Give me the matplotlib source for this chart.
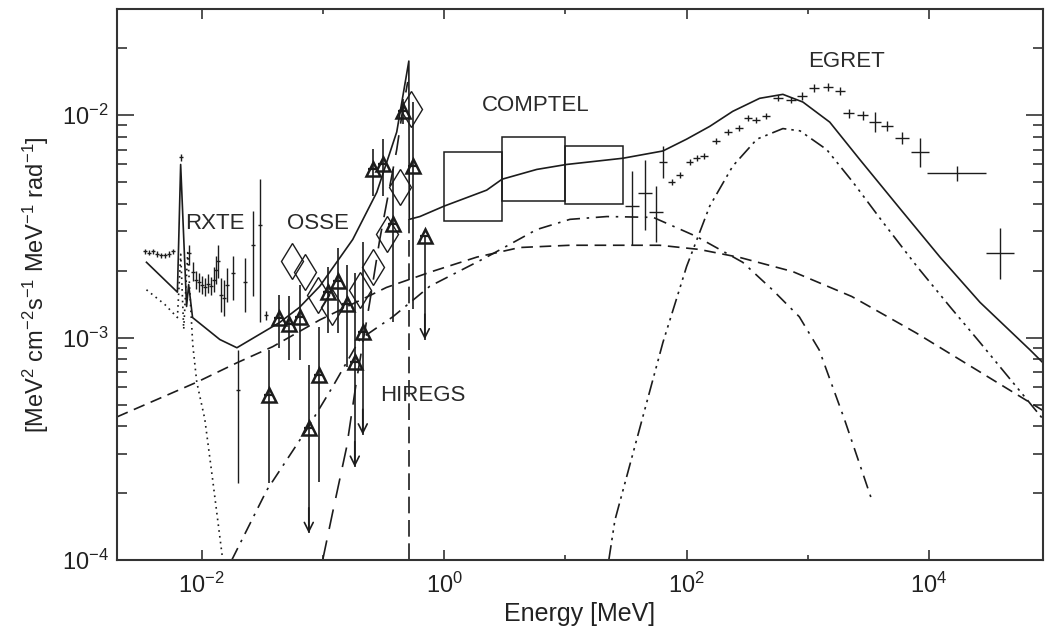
import numpy as np
import matplotlib.pyplot as plt
from matplotlib.patches import Rectangle
from matplotlib.ticker import FixedLocator, FuncFormatter, LogLocator, NullFormatter

plt.rcParams['font.family'] = ['Liberation Sans', 'DejaVu Sans']
plt.rcParams['mathtext.fontset'] = 'custom'
plt.rcParams['mathtext.rm'] = 'Liberation Sans'
plt.rcParams['mathtext.default'] = 'rm'

# ---- model curves (energy in MeV, E^2 dN/dE in MeV^2 cm^-2 s^-1 MeV^-1 rad^-1) ----
total_e = [3.5e-3, 6.3e-3, 6.7e-3, 7.5e-3, 7.8e-3, 8.4e-3, 0.0141, 0.0195, 0.044, 0.0643,
           0.094, 0.176, 0.278, 0.406, 0.511, 0.515, 0.63, 1.0, 2.24, 3.0, 5.8, 10.2, 29.8,
           63.7, 100, 155, 240, 400, 622, 910, 1515, 2690, 5750, 12300, 26300, 68000, 87000]
total_f = [2.18e-3, 1.6e-3, 6.0e-3, 1.38e-3, 1.73e-3, 1.23e-3, 9.8e-4, 9.0e-4, 1.17e-3, 1.37e-3,
           1.7e-3, 2.76e-3, 4.5e-3, 8.4e-3, 0.0175, 3.4e-3, 3.5e-3, 3.9e-3, 4.6e-3, 5.15e-3, 5.7e-3,
           6.0e-3, 6.4e-3, 6.9e-3, 7.8e-3, 8.9e-3, 0.0104, 0.0119, 0.0124, 0.01145, 9.3e-3, 6.3e-3,
           3.8e-3, 2.3e-3, 1.44e-3, 8.8e-4, 7.7e-4]

thermal_e = [3.5e-3, 4.95e-3, 6.3e-3, 6.71e-3, 7.1e-3, 7.66e-3, 8.43e-3, 9.1e-3, 0.0106,
             0.0123, 0.0149]
thermal_f = [1.64e-3, 1.41e-3, 1.23e-3, 2.37e-3, 1.09e-3, 2.41e-3, 9.3e-4, 6.3e-4, 4.3e-4,
             2.3e-4, 1.0e-4]

brems_e = [2e-3, 9.1e-3, 0.0195, 0.0385, 0.094, 0.334, 0.79, 1.86, 4.2, 10.9, 60, 127, 276,
           750, 2300, 7800, 87000]
brems_f = [4.4e-4, 6.3e-4, 7.7e-4, 9.1e-4, 1.2e-3, 1.68e-3, 1.98e-3, 2.3e-3, 2.54e-3, 2.6e-3,
           2.6e-3, 2.49e-3, 2.29e-3, 1.98e-3, 1.53e-3, 1.05e-3, 4.7e-4]

ic_e = [0.0177, 0.0344, 0.0735, 0.12, 0.201, 0.377, 0.76, 2.24, 5.8, 10.9, 22, 53, 120, 290,
        510, 850, 1240, 2000, 3370]
ic_f = [1.0e-4, 2.06e-4, 3.86e-4, 6.0e-4, 9.8e-4, 1.24e-3, 1.7e-3, 2.3e-3, 3.06e-3, 3.4e-3,
        3.5e-3, 3.47e-3, 2.85e-3, 2.18e-3, 1.64e-3, 1.24e-3, 8.8e-4, 4.3e-4, 1.86e-4]

pi0_e = [22.8, 25.6, 63.7, 100, 155, 240, 380, 622, 860, 1430, 2350, 4160, 7930, 14800,
         26300, 87000]
pi0_f = [1.0e-4, 1.51e-4, 9.5e-4, 2.09e-3, 3.9e-3, 5.9e-3, 7.8e-3, 8.7e-3, 8.5e-3, 7.0e-3,
         5.0e-3, 3.3e-3, 2.09e-3, 1.38e-3, 9.5e-4, 4.3e-4]

pos_e = [0.0995, 0.12, 0.157, 0.19, 0.243, 0.294, 0.343, 0.406, 0.455, 0.5]
pos_f = [1.0e-4, 1.63e-4, 3.23e-4, 6.5e-4, 1.44e-3, 2.76e-3, 4.3e-3, 7.0e-3, 0.0106, 0.0141]

line511_e = [0.511, 0.511]
line511_f = [1.0e-4, 3.4e-3]

# ---- RXTE ----
rxte_e = [3.39e-3, 3.66e-3, 3.94e-3, 4.25e-3, 4.59e-3, 4.95e-3, 5.34e-3, 5.76e-3, 6.71e-3,
          7.82e-3, 8.43e-3, 8.92e-3, 9.45e-3, 0.0100, 0.0106, 0.0112, 0.0119, 0.0126, 0.0131,
          0.0136, 0.0144, 0.0152, 0.0161, 0.0180, 0.0198, 0.0226, 0.0264, 0.0301, 0.0337]
rxte_f = [2.44e-3, 2.41e-3, 2.44e-3, 2.37e-3, 2.34e-3, 2.34e-3, 2.37e-3, 2.44e-3, 6.47e-3,
          2.41e-3, 1.98e-3, 1.82e-3, 1.77e-3, 1.73e-3, 1.68e-3, 1.75e-3, 1.70e-3, 1.82e-3,
          2.02e-3, 2.20e-3, 1.55e-3, 1.51e-3, 1.73e-3, 1.96e-3, 5.83e-4, 1.77e-3, 2.62e-3,
          3.2e-3, 1.26e-3]
rxte_lo = [2.37e-3, 2.34e-3, 2.37e-3, 2.30e-3, 2.27e-3, 2.27e-3, 2.30e-3, 2.37e-3, 6.2e-3,
           2.13e-3, 1.80e-3, 1.66e-3, 1.61e-3, 1.57e-3, 1.53e-3, 1.59e-3, 1.55e-3, 1.60e-3,
           1.75e-3, 1.85e-3, 1.30e-3, 1.25e-3, 1.45e-3, 1.48e-3, 2.22e-4, 1.30e-3, 1.53e-3,
           1.17e-3, 1.20e-3]
rxte_hi = [2.51e-3, 2.48e-3, 2.51e-3, 2.44e-3, 2.41e-3, 2.41e-3, 2.44e-3, 2.51e-3, 6.7e-3,
           2.62e-3, 2.18e-3, 2.00e-3, 1.95e-3, 1.90e-3, 1.85e-3, 1.93e-3, 1.87e-3, 2.07e-3,
           2.33e-3, 2.60e-3, 1.85e-3, 1.82e-3, 2.05e-3, 2.32e-3, 8.83e-4, 2.29e-3, 3.7e-3,
           5.15e-3, 1.32e-3]

# ---- OSSE ----
osse_e = [0.0553, 0.0708, 0.0906, 0.118, 0.201, 0.258, 0.336, 0.43, 0.53]
osse_f = [2.2e-3, 1.98e-3, 1.56e-3, 1.37e-3, 1.64e-3, 2.07e-3, 2.91e-3, 4.74e-3, 0.0106]

# ---- HIREGS ----
hiregs_e = [0.0357, 0.0431, 0.0522, 0.0644, 0.0764, 0.0923, 0.1096, 0.1324, 0.157, 0.183,
            0.213, 0.258, 0.311, 0.377, 0.455, 0.551, 0.692]
hiregs_f = [5.53e-4, 1.23e-3, 1.15e-3, 1.24e-3, 3.93e-4, 6.81e-4, 1.6e-3, 1.79e-3, 1.41e-3,
            7.8e-4, 1.06e-3, 5.71e-3, 6.01e-3, 3.23e-3, 0.0104, 5.89e-3, 2.85e-3]
hiregs_hi = [8.83e-4, 1.56e-3, 1.53e-3, 1.73e-3, 7.56e-4, 1.12e-3, 2.07e-3, 2.54e-3, 2.13e-3,
             1.96e-3, 2.68e-3, 7.03e-3, 7.8e-3, 5.71e-3, 0.0118, 0.0115, 2.85e-3]
hiregs_lo = [2.22e-4, 9.0e-4, 7.96e-4, 7.96e-4, 1.32e-4, 2.25e-4, 1.05e-3, 1.05e-3, 7.4e-4,
             2.62e-4, 3.66e-4, 4.32e-3, 4.32e-3, 1.17e-3, 9.1e-3, 1.34e-3, 9.8e-4]
hiregs_ul = [0, 0, 0, 0, 1, 0, 0, 0, 0, 1, 1, 0, 0, 0, 0, 0, 1]

# ---- COMPTEL boxes ----
comptel_elo = [1.0, 3.0, 10.0]
comptel_ehi = [3.0, 10.0, 30.0]
comptel_flo = [3.34e-3, 4.1e-3, 4.0e-3]
comptel_fhi = [6.8e-3, 8.0e-3, 7.25e-3]

# ---- COMPTEL high energy crosses ----
mid_e = [35.3, 45.2, 55.7]
mid_f = [3.89e-3, 4.45e-3, 3.66e-3]
mid_flo = [2.62e-3, 3.06e-3, 2.7e-3]
mid_fhi = [5.6e-3, 6.3e-3, 4.79e-3]

# ---- EGRET ----
egret_e = [63.7, 75.5, 87.9, 106, 121, 139, 174, 219, 270, 320, 372, 450, 565, 724, 892, 1122,
           1463, 1837, 2180, 2843, 3573, 4487, 5970, 8400, 16900, 38400]
egret_f = [6.14e-3, 4.99e-3, 5.37e-3, 6.14e-3, 6.4e-3, 6.53e-3, 7.63e-3, 8.38e-3, 8.73e-3,
           9.69e-3, 9.49e-3, 9.9e-3, 0.01193, 0.01169, 0.0122, 0.01325, 0.01337, 0.01283, 0.0102,
           0.0100, 9.3e-3, 8.92e-3, 7.87e-3, 6.81e-3, 5.48e-3, 2.39e-3]
egret_dx = [0.035, 0.03, 0.03, 0.03, 0.03, 0.03, 0.035, 0.035, 0.035, 0.035, 0.035, 0.035, 0.04,
            0.04, 0.04, 0.04, 0.04, 0.04, 0.045, 0.045, 0.05, 0.05, 0.058, 0.074, 0.243, 0.116]
egret_dy = [0.072, 0.014, 0.014, 0.014, 0.014, 0.014, 0.014, 0.014, 0.014, 0.014, 0.014, 0.014,
            0.014, 0.014, 0.018, 0.018, 0.018, 0.018, 0.02, 0.02, 0.045, 0.023, 0.027, 0.065,
            0.034, 0.113]

ink = '#1c1c1c'
lw = 1.2

fig = plt.figure(figsize=(10.46, 6.4), dpi=100)
ax = fig.add_axes([117 / 1046, 80 / 640, 926 / 1046, 551 / 640])
ax.set_xscale('log')
ax.set_yscale('log')
ax.set_xlim(2e-3, 8.7e4)
ax.set_ylim(1e-4, 3e-2)

# model curves
ax.plot(total_e, total_f, color=ink, lw=lw)
ax.plot(thermal_e, thermal_f, color=ink, lw=lw, dashes=(1, 2.5))
ax.plot(brems_e, brems_f, color=ink, lw=lw, dashes=(7, 4))
ax.plot(ic_e, ic_f, color=ink, lw=lw, dashes=(8, 4, 1.5, 4))
ax.plot(pi0_e, pi0_f, color=ink, lw=lw, dashes=(9, 3, 1.5, 3, 1.5, 3, 1.5, 3))
ax.plot(pos_e, pos_f, color=ink, lw=lw, dashes=(12, 7))
ax.plot(line511_e, line511_f, color=ink, lw=lw, dashes=(10, 4))

# RXTE
rxte_e = np.array(rxte_e)
rxte_f = np.array(rxte_f)
ax.errorbar(rxte_e, rxte_f,
            yerr=[rxte_f - np.array(rxte_lo), np.array(rxte_hi) - rxte_f],
            xerr=[rxte_e * 0.04, rxte_e * 0.04],
            fmt='none', ecolor=ink, elinewidth=1.0, capsize=0)

# OSSE
ax.plot(osse_e, osse_f, linestyle='none', marker='d', ms=18, mfc='none', mec=ink, mew=1.0)

# HIREGS
hiregs_e = np.array(hiregs_e)
hiregs_f = np.array(hiregs_f)
ax.vlines(hiregs_e, hiregs_lo, hiregs_hi, color=ink, lw=1.2)
ax.plot(hiregs_e, hiregs_f, linestyle='none', marker='^', ms=10, mfc='none', mec=ink, mew=1.8)
ax.errorbar(hiregs_e, hiregs_f, xerr=[hiregs_e * 0.08, hiregs_e * 0.08], fmt='none',
            ecolor=ink, elinewidth=1.6, capsize=0)
for e, lo, ul in zip(hiregs_e, hiregs_lo, hiregs_ul):
    if ul:
        ax.annotate('', xy=(e, lo), xytext=(e, lo * 1.3),
                    arrowprops=dict(arrowstyle='->', color=ink, lw=1.2,
                                    shrinkA=0, shrinkB=0, mutation_scale=16))

# COMPTEL
for elo, ehi, flo, fhi in zip(comptel_elo, comptel_ehi, comptel_flo, comptel_fhi):
    ax.add_patch(Rectangle((elo, flo), ehi - elo, fhi - flo, fill=False, edgecolor=ink, lw=1.1))

mid_e = np.array(mid_e)
mid_f = np.array(mid_f)
ax.errorbar(mid_e, mid_f, yerr=[mid_f - np.array(mid_flo), np.array(mid_fhi) - mid_f],
            xerr=[mid_e * 0.12, mid_e * 0.14], fmt='none', ecolor=ink, elinewidth=1.0, capsize=0)

# EGRET
egret_e = np.array(egret_e)
egret_f = np.array(egret_f)
egret_dx = np.array(egret_dx)
egret_dy = np.array(egret_dy)
ax.errorbar(egret_e, egret_f,
            xerr=[egret_e * (1 - 10 ** -egret_dx), egret_e * (10 ** egret_dx - 1)],
            yerr=[egret_f * (1 - 10 ** -egret_dy), egret_f * (10 ** egret_dy - 1)],
            fmt='none', ecolor=ink, elinewidth=1.0, capsize=0)

# instrument labels
lab = dict(fontsize=16, color='#2a2a2a', va='center', ha='left')
ax.text(7.24e-3, 3.27e-3, 'RXTE', **lab)
ax.text(0.0503, 3.27e-3, 'OSSE', **lab)
ax.text(2.04, 0.011, 'COMPTEL', **lab)
ax.text(1000, 0.0175, 'EGRET', **lab)
ax.text(0.294, 5.48e-4, 'HIREGS', **lab)

# axes styling
ax.xaxis.set_major_locator(FixedLocator([1e-2, 1e0, 1e2, 1e4]))
ax.xaxis.set_minor_locator(FixedLocator([1e-1, 1e1, 1e3]))
ax.xaxis.set_major_formatter(FuncFormatter(lambda v, p: r'$10^{%d}$' % round(np.log10(v))))
ax.xaxis.set_minor_formatter(NullFormatter())
ax.yaxis.set_major_locator(FixedLocator([1e-4, 1e-3, 1e-2]))
ax.yaxis.set_minor_locator(LogLocator(base=10, subs=np.arange(2, 10)))
ax.yaxis.set_major_formatter(FuncFormatter(lambda v, p: r'$10^{%d}$' % round(np.log10(v))))
ax.yaxis.set_minor_formatter(NullFormatter())

ax.tick_params(which='both', direction='in', top=True, right=True, color='#333333',
               labelsize=17, labelcolor='#222222')
ax.tick_params(axis='x', which='major', length=7, width=1.2, pad=9)
ax.tick_params(axis='x', which='minor', length=3.5, width=1.2)
ax.tick_params(axis='y', which='major', length=12, width=1.2, pad=6)
ax.tick_params(axis='y', which='minor', length=7, width=1.2)
for s in ax.spines.values():
    s.set_linewidth(1.5)
    s.set_color('#333333')

ax.set_xlabel('Energy [MeV]', fontsize=18, color='#222222', labelpad=3)
ax.set_ylabel(r'[MeV$^2$ cm$^{-2}$s$^{-1}$ MeV$^{-1}$ rad$^{-1}$]', fontsize=17,
              color='#222222', labelpad=8)

fig.savefig('out.png', dpi=100, facecolor='white')
